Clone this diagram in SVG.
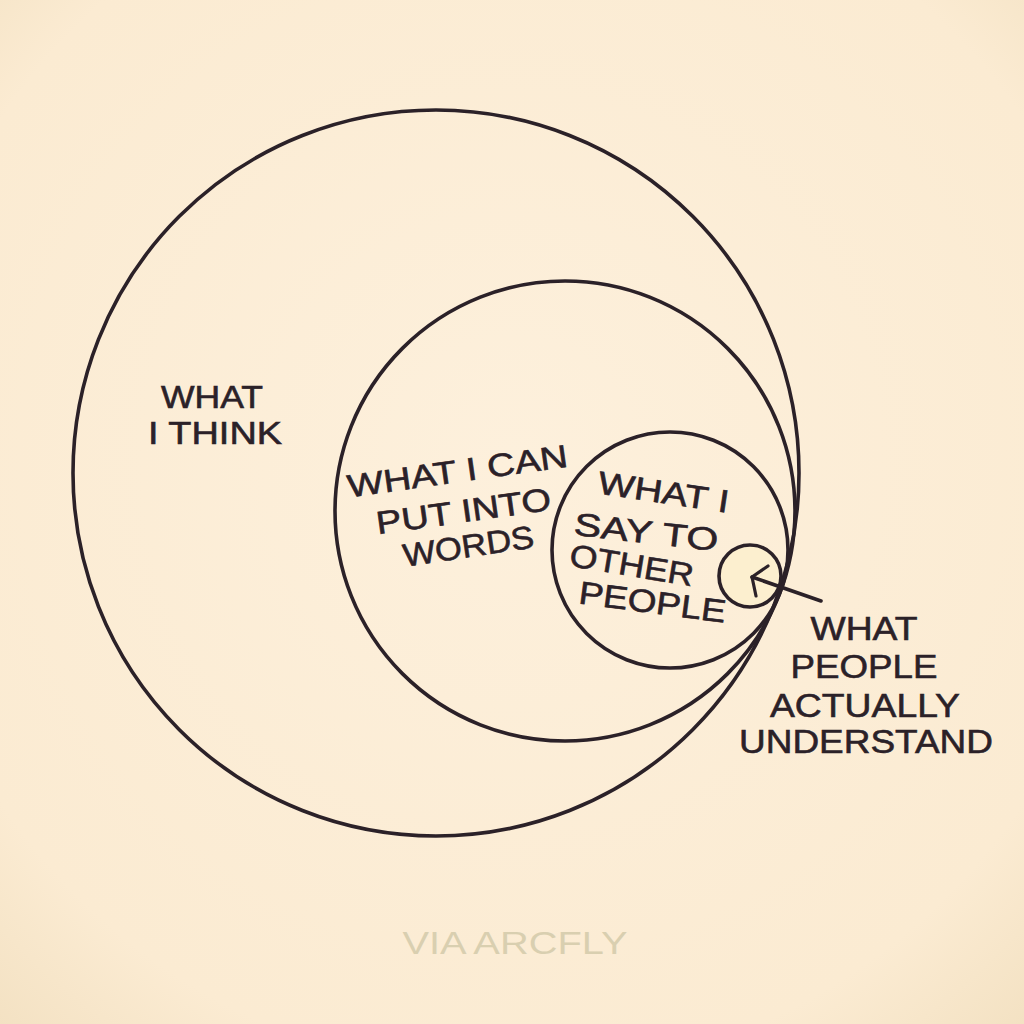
<svg xmlns="http://www.w3.org/2000/svg" width="1024" height="1024" viewBox="0 0 1024 1024">
<style>
.ring{fill:none;stroke:#2b2128;stroke-width:3.6}
.lbl{font-family:"Liberation Sans","DejaVu Sans",sans-serif;font-size:32px;fill:#2b2128;stroke:#2b2128;stroke-width:0.6;text-anchor:middle}
.credit{font-family:"Liberation Sans","DejaVu Sans",sans-serif;font-size:32px;fill:#d9cfb0;text-anchor:middle}
</style>
<defs>
<radialGradient id="bg" cx="50%" cy="45%" r="75%">
<stop offset="0" stop-color="#fdf0dc"/>
<stop offset="0.8" stop-color="#fbebd2"/>
<stop offset="1" stop-color="#f3e1c2"/>
</radialGradient>
</defs>
<rect width="1024" height="1024" fill="url(#bg)"/>
<g id="think">
<circle class="ring" cx="436" cy="473" r="363"/>
<text class="lbl" x="212" y="408" textLength="102" lengthAdjust="spacingAndGlyphs">WHAT</text>
<text class="lbl" x="215" y="444" textLength="134" lengthAdjust="spacingAndGlyphs">I THINK</text>
</g>
<g id="words">
<circle class="ring" cx="565" cy="511" r="230"/>
<text class="lbl" transform="translate(459 482) rotate(-8)" textLength="222" lengthAdjust="spacingAndGlyphs">WHAT I CAN</text>
<text class="lbl" transform="translate(465 522) rotate(-8)" textLength="176" lengthAdjust="spacingAndGlyphs">PUT INTO</text>
<text class="lbl" transform="translate(470 557) rotate(-8.5)" textLength="132" lengthAdjust="spacingAndGlyphs">WORDS</text>
</g>
<g id="say">
<circle class="ring" cx="670" cy="550" r="118"/>
<text class="lbl" transform="translate(662 503) rotate(8.5)" textLength="132" lengthAdjust="spacingAndGlyphs">WHAT I</text>
<text class="lbl" transform="translate(645 543) rotate(6.5)" textLength="145" lengthAdjust="spacingAndGlyphs">SAY TO</text>
<text class="lbl" transform="translate(630 576) rotate(9.5)" textLength="125" lengthAdjust="spacingAndGlyphs">OTHER</text>
<text class="lbl" transform="translate(651 613) rotate(7.5)" textLength="148" lengthAdjust="spacingAndGlyphs">PEOPLE</text>
</g>
<g id="understand">
<circle class="ring" cx="750" cy="576" r="31" fill="#fcefcf" style="fill:#fcefcf"/>
<text class="lbl" x="864" y="640" font-size="34" style="font-size:34px" textLength="107" lengthAdjust="spacingAndGlyphs">WHAT</text>
<text class="lbl" x="864" y="678" style="font-size:34px" textLength="147" lengthAdjust="spacingAndGlyphs">PEOPLE</text>
<text class="lbl" x="865" y="717" style="font-size:34px" textLength="190" lengthAdjust="spacingAndGlyphs">ACTUALLY</text>
<text class="lbl" x="866" y="753" style="font-size:34px" textLength="254" lengthAdjust="spacingAndGlyphs">UNDERSTAND</text>
</g>
<g id="connectors">
<path d="M821 601 L752 577" fill="none" stroke="#2b2128" stroke-width="3.6" stroke-linecap="round"/>
<path d="M768 566 L752 577 L756 596" fill="none" stroke="#2b2128" stroke-width="3.2" stroke-linecap="round" stroke-linejoin="round"/>
</g>
<text class="credit" x="515" y="954" textLength="225" lengthAdjust="spacingAndGlyphs">VIA ARCFLY</text>
</svg>
